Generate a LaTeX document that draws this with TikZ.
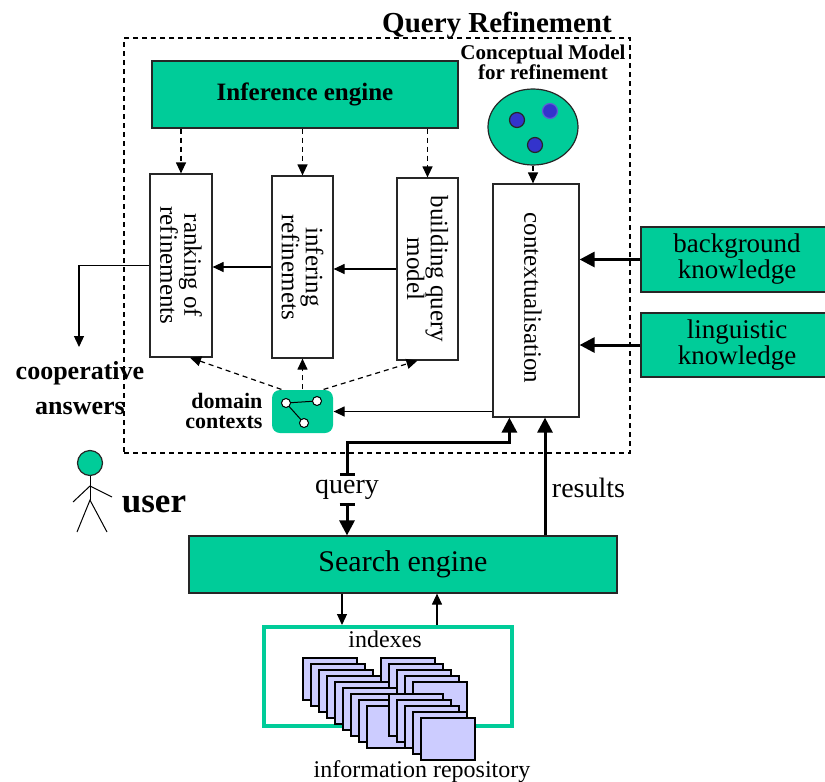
\documentclass[tikz,border=0pt]{standalone}
\usepackage{fontspec}
\setmainfont{Liberation Serif}
\usetikzlibrary{arrows.meta,positioning,shapes.geometric}

\definecolor{qgreen}{RGB}{0,204,153}
\definecolor{qblue}{RGB}{51,51,204}
\definecolor{qdoc}{RGB}{204,204,255}
\newcommand{\fs}[2]{\fontsize{#1}{#2}\selectfont}

\begin{document}
\begin{tikzpicture}[x=1pt,y=-1pt,>={Triangle[length=11pt,width=10pt]},line width=1.2pt,
  greenbox/.style={draw=black!85,fill=qgreen,inner sep=0pt,align=center},
  stagebox/.style={draw=black!85,fill=white,inner sep=0pt},
  vtext/.style={rotate=-90,align=center,font=\fs{25}{22}},
  dot/.style={circle,draw=black!85,fill=qblue,minimum size=15pt,inner sep=0pt},
  vertex/.style={circle,draw=black,fill=white,line width=1pt,minimum size=9pt,inner sep=0pt},
  flow/.style={->},
  hint/.style={->,dash pattern=on 5pt off 4pt},
  heavy/.style={-{Triangle[length=15pt,width=15pt]},line width=3pt},
  docpage/.style={draw=black,fill=qdoc,line width=1.2pt}]
\useasboundingbox (0,0) rectangle (825,782);

\node[draw,dash pattern=on 5pt off 4pt,minimum width=506pt,minimum height=415pt,inner sep=0pt] (qr) at (377,245.5) {};
\node[font=\bfseries\fs{29}{30},anchor=base] (qr-title) at (497,32) {Query Refinement};

\node[greenbox,minimum width=306pt,minimum height=67pt,font=\bfseries\fs{25}{26}] (ie) at (305,94.5) {Inference engine};

\node[stagebox,minimum width=62pt,minimum height=183pt] (rank) at (181,265.5) {};
\node[vtext] (rank-t) at (rank) {ranking of\\refinements};
\node[stagebox,minimum width=61pt,minimum height=182pt] (infer) at (302.5,267) {};
\node[vtext] (infer-t) at (infer) {infering\\refinemets};
\node[stagebox,minimum width=61pt,minimum height=182pt] (build) at (427.5,269) {};
\node[vtext] (build-t) at (build) {building query\\model};
\node[stagebox,minimum width=86pt,minimum height=233pt] (ctx) at (536,300.5) {};
\node[vtext] (ctx-t) at (533,298) {contextualisation};

\node[font=\bfseries\fs{21}{20},align=center] (cm-t) at (543,62) {Conceptual Model\\for refinement};
\node[ellipse,draw=black!85,fill=qgreen,minimum width=90pt,minimum height=76pt,inner sep=0pt] (cm) at (533,127) {};
\node[dot] (cm-a) at (517,120) {};
\node[dot,draw=qblue!80] (cm-b) at (550,111) {};
\node[dot] (cm-c) at (535,145) {};

\node[greenbox,minimum width=192pt,minimum height=65pt,font=\fs{27}{26}] (bg) at (737,259.5) {background\\knowledge};
\node[greenbox,minimum width=192pt,minimum height=64pt,font=\fs{27}{26}] (ling) at (737,345) {linguistic\\knowledge};

\node[fill=qgreen,rounded corners=8pt,minimum width=61pt,minimum height=43pt,inner sep=0pt] (dc) at (302.5,411.5) {};
\draw[line width=1pt] (286,403) -- (317,401) (286,403) -- (304,423);
\node[vertex] (dc-a) at (286,403) {};
\node[vertex] (dc-b) at (317,401) {};
\node[vertex] (dc-c) at (304,423) {};
\node[font=\bfseries\fs{22}{20},align=right,anchor=east,inner sep=2pt] (dc-t) at (265,411) {domain\\contexts};

\node[font=\bfseries\fs{26}{35},align=center] (coop) at (80,388) {cooperative\\answers};
\coordinate (coop-in) at (79,347);

\node[circle,draw=black!85,fill=qgreen,minimum size=25pt,inner sep=0pt] (head) at (90,463) {};
\draw[line width=1pt] (head.south) -- ++(0,24) coordinate (hip);
\draw[line width=1pt] (73,502) -- (90,486) -- (112,497);
\draw[line width=1pt] (77,532) -- (hip) -- (107,532);
\node[font=\bfseries\fs{35}{36},anchor=base] (user) at (154,512) {user};

\node[font=\fs{28}{28},anchor=base] (query) at (347,493) {query};
\node[font=\fs{28}{28},anchor=base west] (results) at (548,497) {results};
\coordinate (qbend) at (347,442);

\node[greenbox,minimum width=428pt,minimum height=57pt,font=\fs{30}{30}] (se) at (403,564.5) {Search engine};

\node[draw=qgreen,line width=4pt,minimum width=248pt,minimum height=99pt,inner sep=0pt] (idx) at (388,676.5) {};
\node[font=\fs{24}{24},anchor=base] (idx-t) at (385,647) {indexes};
\foreach \bx/\by in {303/658,381/658,335/682,389/694}
  \foreach \i in {0,...,4}
    \draw[docpage] (\bx+8*\i,\by+6*\i) rectangle ++(54,42);
\node[font=\fs{24}{24},anchor=base] (repo) at (422,777) {information repository};

\draw[hint] (ie.south -| rank) -- (rank.north);
\draw[hint] (ie.south -| infer) -- (infer.north);
\draw[hint] (ie.south -| build) -- (build.north);
\draw[hint] (cm.south) -- (cm.south |- ctx.north);
\draw[flow] (build.west) -- (build.west -| infer.east);
\draw[flow] (infer.west) -- (infer.west -| rank.east);
\draw[flow] (rank.west) -| (coop-in);
\draw[hint] ([xshift=10pt]dc.north west) -- ([xshift=9pt]rank.south);
\draw[hint] (dc.north) -- (infer.south);
\draw[hint] ([xshift=-10pt]dc.north east) -- ([xshift=-10pt]build.south);
\draw[flow] (ctx.west |- dc.east) -- (dc.east);
\draw[heavy] (bg.west) -- (bg.west -| ctx.east);
\draw[heavy] (ling.west) -- (ling.west -| ctx.east);
\draw[heavy,{Bar[width=15pt]}-{Triangle[length=15pt,width=15pt]}] (query.north) -- (qbend) -| ([xshift=17pt]ctx.south west);
\draw[heavy,{Bar[width=15pt]}-{Triangle[length=15pt,width=15pt]}] (query.south) -- (query.south |- se.north);
\draw[heavy] ([xshift=9pt]ctx.south |- se.north) -- ([xshift=9pt]ctx.south);
\draw[flow] ([xshift=-61pt]se.south) -- ([xshift=-61pt]se.south |- idx.north);
\draw[flow] ([xshift=34pt]se.south |- idx.north) -- ([xshift=34pt]se.south);
\end{tikzpicture}
\end{document}
